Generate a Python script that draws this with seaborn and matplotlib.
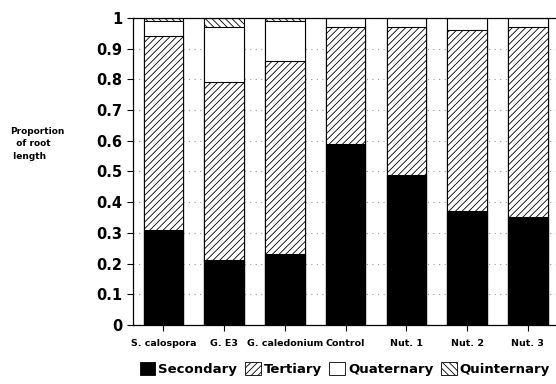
import seaborn as sns
import matplotlib.pyplot as plt
import matplotlib.patches as mpatches
import pandas as pd
import numpy as np

categorias = ["S. calospora", "G. E3", "G. caledonium", "Control", "Nut. 1", "Nut. 2", "Nut. 3"]
secundaria = [0.31, 0.21, 0.23, 0.59, 0.49, 0.37, 0.35]
terciaria = [0.63, 0.58, 0.63, 0.38, 0.48, 0.59, 0.62]
cuaternaria = [0.05, 0.18, 0.13, 0.03, 0.03, 0.04, 0.03]
quinternaria = [0.01, 0.03, 0.01, 0.00, 0.00, 0.00, 0.00]

df = pd.DataFrame({"cat": categorias, "Secondary": secundaria, "Tertiary": terciaria,
                   "Quaternary": cuaternaria, "Quinternary": quinternaria})
capas = ["Secondary", "Tertiary", "Quaternary", "Quinternary"]
estilos = {"Secondary": dict(color="black", hatch=None),
           "Tertiary": dict(color="white", hatch="/////"),
           "Quaternary": dict(color="white", hatch=None),
           "Quinternary": dict(color="white", hatch="\\\\\\\\\\")}

sns.set_style("white")
plt.rcParams['font.family'] = ['DejaVu Sans']
plt.rcParams['hatch.linewidth'] = 0.6
plt.rcParams['text.color'] = 'black'
plt.rcParams['xtick.color'] = 'black'
plt.rcParams['ytick.color'] = 'black'

fig = plt.figure(figsize=(5.56, 3.84), dpi=100)
ax = fig.add_axes([0.239, 0.154, 0.765, 0.799])

# acumulados, dibujar de arriba hacia abajo
acum = df[capas].cumsum(axis=1)
for capa in reversed(capas):
    d = pd.DataFrame({"cat": categorias, "v": acum[capa].values})
    sns.barplot(data=d, x="cat", y="v", order=categorias, ax=ax, width=0.65,
                color=estilos[capa]["color"], hatch=estilos[capa]["hatch"],
                edgecolor="black", linewidth=0.8, saturation=1)
for p in ax.patches:
    p.set_edgecolor("black")

ax.set_ylim(0, 1)
ax.set_xlim(-0.5, 6.5)
ax.set_yticks(np.arange(0, 1.01, 0.1))
ax.set_yticklabels(["0"] + [f"{v:.1f}" for v in np.arange(0.1, 1.0, 0.1)] + ["1"],
                   fontsize=10.5, fontweight="bold")
ax.set_xticks(range(len(categorias)))
ax.set_xticklabels(categorias, fontsize=6.8, fontweight="bold")
ax.tick_params(axis="both", which="both", length=4, width=0.8, direction="out",
               bottom=True, left=True, color="black")
ax.tick_params(axis="x", pad=6)
ax.yaxis.grid(True, linestyle=(0, (1, 4)), color="#999999", linewidth=0.8)
ax.set_axisbelow(True)
ax.set_xlabel("")
ax.set_ylabel("")
ax.spines["right"].set_visible(False)
for s in ["left", "bottom", "top"]:
    ax.spines[s].set_color("black")
    ax.spines[s].set_linewidth(0.9)

fig.text(0.018, 0.67, "Proportion\n  of root\n length", fontsize=6.5, fontweight="bold",
         ha="left", va="top", linespacing=1.5)

handles = [mpatches.Patch(facecolor=estilos[c]["color"], hatch=estilos[c]["hatch"],
                          edgecolor="black", linewidth=0.6, label=c) for c in capas]
fig.legend(handles=handles, loc="lower center", bbox_to_anchor=(0.62, -0.01), ncol=4,
           frameon=False, prop={"weight": "bold", "size": 9.5}, handlelength=1.2,
           handleheight=1.2, handletextpad=0.2, columnspacing=0.6)

plt.savefig("out.png", dpi=100)
